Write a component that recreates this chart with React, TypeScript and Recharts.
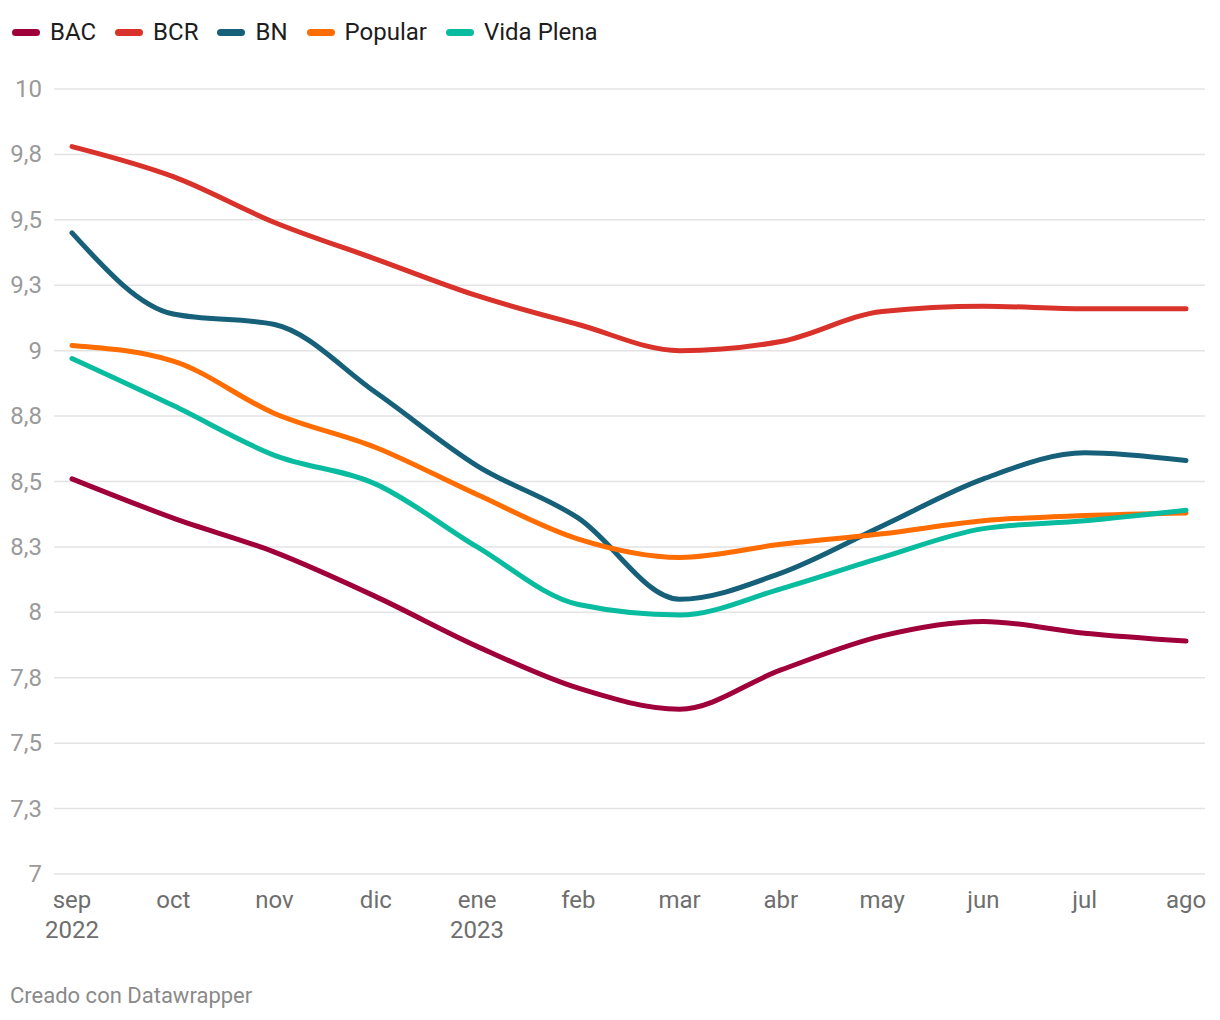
import React from 'react';
import { LineChart, Line, XAxis, YAxis, CartesianGrid, Legend } from 'recharts';

const months = ['sep', 'oct', 'nov', 'dic', 'ene', 'feb', 'mar', 'abr', 'may', 'jun', 'jul', 'ago'];
const years = ['2022', '', '', '', '2023', '', '', '', '', '', '', ''];
const bac = [8.51, 8.36, 8.23, 8.06, 7.87, 7.71, 7.63, 7.78, 7.91, 7.965, 7.92, 7.89];
const bcr = [9.78, 9.665, 9.49, 9.35, 9.21, 9.1, 9.0, 9.035, 9.15, 9.17, 9.16, 9.16];
const bn = [9.45, 9.14, 9.1, 8.84, 8.56, 8.36, 8.05, 8.15, 8.33, 8.51, 8.61, 8.58];
const popular = [9.02, 8.96, 8.76, 8.63, 8.45, 8.28, 8.21, 8.26, 8.3, 8.35, 8.37, 8.38];
const vidaPlena = [8.97, 8.79, 8.6, 8.49, 8.25, 8.03, 7.99, 8.09, 8.21, 8.32, 8.35, 8.39];
const yTicks = [7, 7.25, 7.5, 7.75, 8, 8.25, 8.5, 8.75, 9, 9.25, 9.5, 9.75, 10];

const seriesDefs = [
  { key: 'BAC', values: bac, color: '#a0003a' },
  { key: 'BCR', values: bcr, color: '#d8322b' },
  { key: 'BN', values: bn, color: '#16607a' },
  { key: 'Popular', values: popular, color: '#ff6c00' },
  { key: 'Vida Plena', values: vidaPlena, color: '#09bb9f' },
];

const data = months.map((m, i) => {
  const row: any = { month: m, year: years[i] };
  seriesDefs.forEach((s) => {
    row[s.key] = s.values[i];
  });
  return row;
});

const FONT = 'Roboto, "Noto Sans", sans-serif';

const fmtY = (v: number) => (Number.isInteger(v) ? String(v) : v.toFixed(1).replace('.', ','));

const YTick = (props: any) => {
  const { y, payload } = props;
  return (
    <text x={42} y={y} dy={8} textAnchor="end" fill="#9a9a9a" fontSize={24} fontFamily={FONT}>
      {fmtY(payload.value)}
    </text>
  );
};

const XTick = (props: any) => {
  const { x, y, payload, index } = props;
  const yr = years[index];
  return (
    <g>
      <text x={x} y={y} dy={34} textAnchor="middle" fill="#6e6e6e" fontSize={24} fontFamily={FONT}>
        {payload.value}
      </text>
      {yr ? (
        <text x={x} y={y} dy={64} textAnchor="middle" fill="#6e6e6e" fontSize={24} fontFamily={FONT}>
          {yr}
        </text>
      ) : null}
    </g>
  );
};

const LegendContent = () => (
  <div style={{ display: 'flex', alignItems: 'center', fontFamily: FONT, fontSize: 24, color: '#1d1d1d', lineHeight: '28px' }}>
    {seriesDefs.map((s) => (
      <div key={s.key} style={{ display: 'flex', alignItems: 'center', marginRight: 19 }}>
        <span
          style={{
            display: 'inline-block',
            width: 28,
            height: 7,
            borderRadius: 4,
            background: s.color,
            marginRight: 10,
          }}
        />
        <span>{s.key}</span>
      </div>
    ))}
  </div>
);

export default function App() {
  return (
    <div style={{ position: 'absolute', left: 0, top: 0, width: 1220, height: 1020, background: '#fff' }}>
      <LineChart
        width={1220}
        height={1020}
        data={data}
        margin={{ top: 61, right: 15, bottom: 116, left: 0 }}
      >
        <CartesianGrid horizontal vertical={false} stroke="#e3e3e3" strokeWidth={1.5} />
        <XAxis
          dataKey="month"
          axisLine={false}
          tickLine={false}
          tickSize={0}
          tickMargin={0}
          interval={0}
          height={30}
          padding={{ left: 18, right: 19 }}
          tick={<XTick />}
        />
        <YAxis
          domain={[7, 10]}
          ticks={yTicks}
          axisLine={false}
          tickLine={false}
          width={54}
          tick={<YTick />}
          interval={0}
        />
        <Legend
          verticalAlign="top"
          align="left"
          height={28}
          content={<LegendContent />}
          wrapperStyle={{ top: 18, left: 12, width: 'auto' }}
        />
        {seriesDefs.map((s) => (
          <Line
            key={s.key}
            type="monotone"
            dataKey={s.key}
            stroke={s.color}
            strokeWidth={5}
            dot={false}
            activeDot={false}
            strokeLinecap="round"
            isAnimationActive={false}
          />
        ))}
      </LineChart>
      <div
        style={{
          position: 'absolute',
          left: 10,
          top: 983,
          fontFamily: FONT,
          fontSize: 22,
          color: '#8a8a8a',
        }}
      >
        Creado con Datawrapper
      </div>
    </div>
  );
}
